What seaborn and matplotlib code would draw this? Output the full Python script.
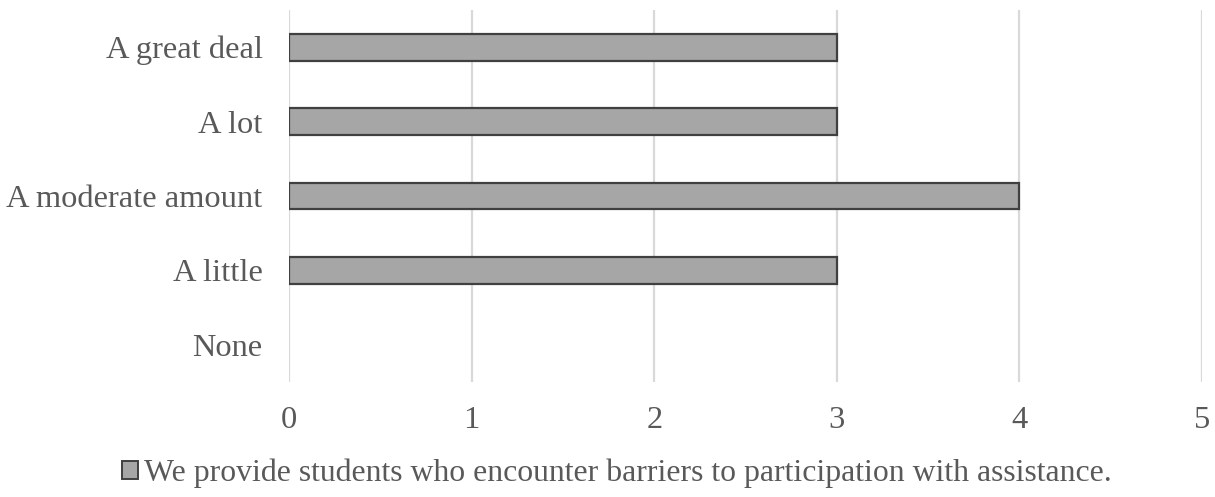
import matplotlib
matplotlib.use("Agg")
import matplotlib.pyplot as plt
import seaborn as sns
import pandas as pd

categories = ["A great deal", "A lot", "A moderate amount", "A little", "None"]
values = [3, 3, 4, 3, 0]
series_name = "We provide students who encounter barriers to participation with assistance."
x_ticks = [0, 1, 2, 3, 4, 5]

df = pd.DataFrame({"category": categories, "count": values, "series": series_name})

sns.set_theme(style="white")
plt.rcParams["font.family"] = ["Liberation Serif", "DejaVu Serif"]

text_color = "#595959"
font_size = 23.4
fig = plt.figure(figsize=(12.15, 4.97), dpi=100)
ax = fig.add_axes([0.2379, 0.2314, 0.7514, 0.7485])

sns.barplot(data=df, y="category", x="count", hue="series", order=categories,
            orient="h", width=0.36, palette=["#a6a6a6"], edgecolor="#404040",
            linewidth=1.6, ax=ax, legend=True, zorder=3)

# a zero-length bar should leave no outline behind
for p in ax.patches:
    if p.get_width() == 0:
        p.set_linewidth(0)

ax.set_xlim(0, 5)
ax.set_xticks(x_ticks)
ax.set_xticklabels([str(t) for t in x_ticks])
ax.xaxis.grid(True, color="#d9d9d9", linewidth=1.6, zorder=0)
ax.yaxis.grid(False)
for s in ax.spines.values():
    s.set_visible(False)
ax.tick_params(axis="both", length=0, labelsize=font_size, colors=text_color)
ax.tick_params(axis="y", pad=19)
ax.tick_params(axis="x", pad=17)
ax.set_xlabel("")
ax.set_ylabel("")

leg = ax.legend(loc="center", bbox_to_anchor=(0.359, -0.245), frameon=False,
                fontsize=22.9, handlelength=0.5, handleheight=0.5,
                handletextpad=0.2, borderaxespad=0)
for t in leg.get_texts():
    t.set_color(text_color)
for h in leg.legend_handles:
    h.set_edgecolor("#404040")
    h.set_linewidth(1.4)

fig.savefig("out.png", dpi=100)
